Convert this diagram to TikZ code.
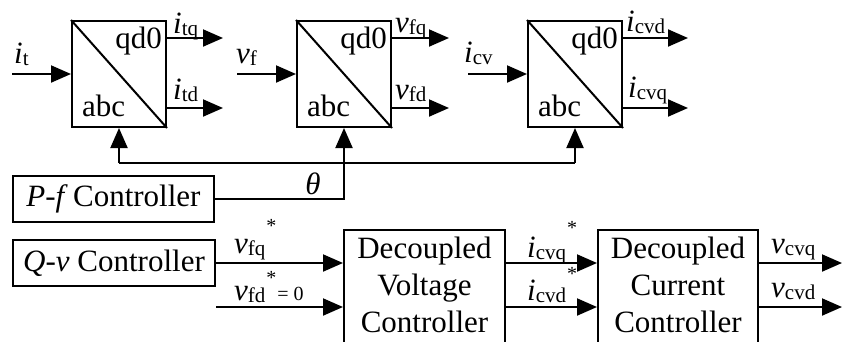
\documentclass[tikz,border=0pt]{standalone}
\usepackage{fontspec}
\setmainfont{Liberation Serif}
\usetikzlibrary{arrows.meta,calc}
\newcommand\mysub[2]{\textit{#1}\raisebox{-2pt}{\fontsize{21}{21}\selectfont #2}}
\newcommand\smallt[1]{{\fontsize{20}{20}\selectfont #1}}
\begin{document}
\begin{tikzpicture}[x=1pt,y=-1pt,
  font=\fontsize{31}{37}\selectfont,
  lw/.style={line width=2pt},
  tbox/.style={draw,lw,minimum width=94pt,minimum height=106pt,inner sep=0pt},
  cbox/.style={draw,lw,inner sep=0pt,minimum height=46pt},
  bigbox/.style={draw,lw,inner sep=0pt,minimum height=125pt,anchor=north},
  boxtext/.style={anchor=north,align=center,inner sep=0pt},
  arr/.style={lw,-{Triangle[length=20pt,width=17pt]}},
  lab/.style={anchor=base west,inner sep=0pt}]
\useasboundingbox (0,0) rectangle (843,341);
\clip (0,0) rectangle (843,341);

% transform blocks
\foreach \n/\x in {T1/119,T2/344,T3/575}{
  \node[tbox] (\n) at (\x,74) {};
  \draw[lw] (\n.north west) -- (\n.south east);
  \node[anchor=base east,inner sep=0pt] (\n q) at ($(\n.north east)+(-5,28)$) {qd0};
  \node[anchor=base west,inner sep=0pt] (\n a) at ($(\n.south west)+(11,-12)$) {abc};
}

% inputs
\coordinate (in1) at (12,74);
\coordinate (in2) at (237,74);
\coordinate (in3) at (468,74);
\draw[arr] (in1) -- (T1.west);
\draw[arr] (in2) -- (T2.west);
\draw[arr] (in3) -- (T3.west);
\node[lab] (Lit) at (14,63) {\mysub{i}{t}};
\node[lab] (Lvf) at (236,63) {\mysub{v}{f}};
\node[lab] (Licv) at (464,62) {\mysub{i}{cv}};

% outputs
\coordinate (o1a) at (223,38); \coordinate (o1b) at (223,108);
\coordinate (o2a) at (449,38); \coordinate (o2b) at (449,108);
\coordinate (o3a) at (688,38); \coordinate (o3b) at (688,108);
\draw[arr] (T1.east |- o1a) -- (o1a);
\draw[arr] (T1.east |- o1b) -- (o1b);
\draw[arr] (T2.east |- o2a) -- (o2a);
\draw[arr] (T2.east |- o2b) -- (o2b);
\draw[arr] (T3.east |- o3a) -- (o3a);
\draw[arr] (T3.east |- o3b) -- (o3b);
\node[lab] (Litq) at (173,33) {\mysub{i}{tq}};
\node[lab] (Litd) at (173,99) {\mysub{i}{td}};
\node[lab] (Lvfq) at (395,32) {\mysub{v}{fq}};
\node[lab] (Lvfd) at (395,99) {\mysub{v}{fd}};
\node[lab] (Licvd) at (626,31) {\mysub{i}{cvd}};
\node[lab] (Licvq) at (628,97) {\mysub{i}{cvq}};

% P-f controller and angle feedback
\node[cbox,minimum width=201pt] (PF) at (113.5,199) {\textit{P-f}\,Controller};
\coordinate (fb1) at (119,163);
\coordinate (fb3) at (575,163);
\draw[lw] (fb1) -- (fb3);
\draw[arr] (fb1) -- (T1.south);
\draw[arr] (fb3) -- (T3.south);
\draw[arr] (PF.east) -| (T2.south);
\node[anchor=base,inner sep=0pt] (Lth) at (313,194) {\textit{θ}};

% Q-v controller and decoupled controllers
\node[cbox,minimum width=202pt] (QV) at (114,263) {\textit{Q-v} Controller};
\node[bigbox,minimum width=161pt] (VC) at (424.5,229) {};
\node[boxtext] (VCt) at (424.5,237) {Decoupled\\Voltage\\Controller};
\node[bigbox,minimum width=160pt] (CC) at (678,229) {};
\node[boxtext] (CCt) at (678,237) {Decoupled\\Current\\Controller};

\coordinate (vfd) at (216,307);
\coordinate (oq) at (842,263);
\coordinate (od) at (842,307);
\draw[arr] (QV.east) -- (VC.west |- QV.east);
\draw[arr] (vfd) -- (VC.west |- vfd);
\draw[arr] (VC.east |- QV.east) -- (CC.west |- QV.east);
\draw[arr] (VC.east |- vfd) -- (CC.west |- vfd);
\draw[arr] (CC.east |- oq) -- (oq);
\draw[arr] (CC.east |- od) -- (od);

\node[lab] (Lvfqs) at (234,253) {\mysub{v}{fq}\hspace{1pt}\raisebox{21pt}{\smallt{*}}};
\node[lab] (Lvfds) at (234,300) {\mysub{v}{fd}\hspace{1pt}\raisebox{16pt}{\smallt{*}}\hspace{1pt}\smallt{= 0}};
\node[lab] (Licvqs) at (527,257) {\mysub{i}{cvq}\hspace{1pt}\raisebox{23pt}{\smallt{*}}};
\node[lab] (Licvds) at (527,300) {\mysub{i}{cvd}\hspace{1pt}\raisebox{20pt}{\smallt{*}}};
\node[lab] (Lvcvq) at (771,253) {\mysub{v}{cvq}};
\node[lab] (Lvcvd) at (771,297) {\mysub{v}{cvd}};
\end{tikzpicture}
\end{document}
